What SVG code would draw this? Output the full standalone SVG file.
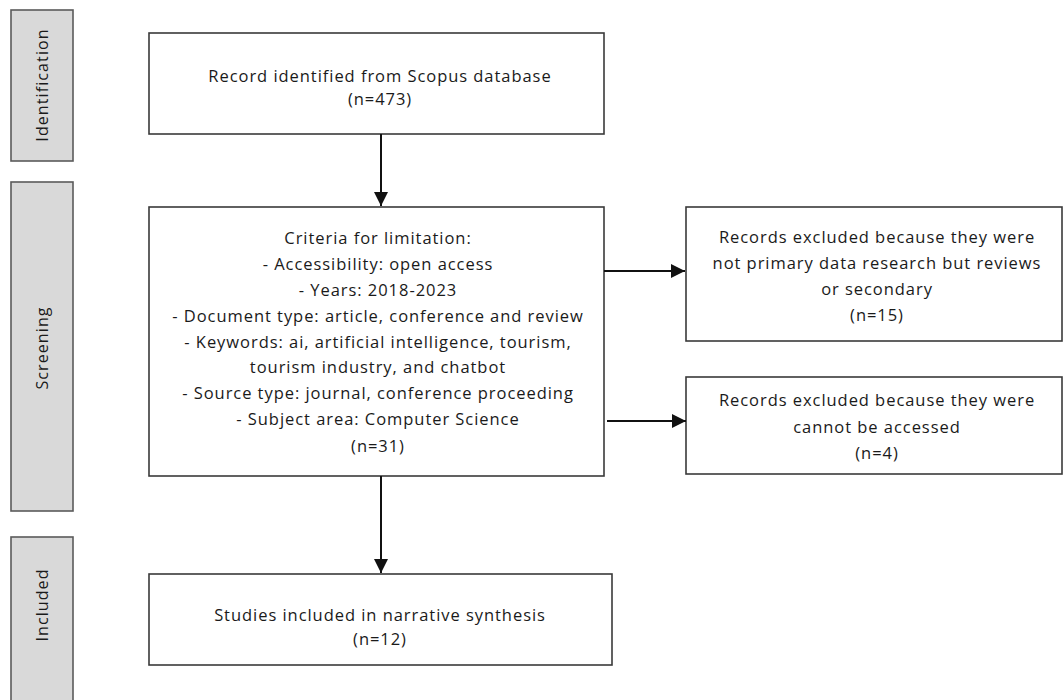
<svg xmlns="http://www.w3.org/2000/svg" width="1064" height="700" viewBox="0 0 1064 700">
<style>
.box{fill:#ffffff;stroke:#3a3a3a;stroke-width:1.6}
.lane{fill:#d9d9d9;stroke:#5a5a5a;stroke-width:1.6}
.t{font-family:"Open Sans","DejaVu Sans",sans-serif;font-size:16.5px;letter-spacing:0.95px;fill:#1a1a1a;text-anchor:middle}
.lt{font-family:"Open Sans","DejaVu Sans",sans-serif;font-size:16px;letter-spacing:1.1px;fill:#1a1a1a;text-anchor:middle}
.c{stroke:#111;stroke-width:2;fill:none;marker-end:url(#ah)}
</style>
<defs>
<marker id="ah" markerUnits="userSpaceOnUse" markerWidth="14" markerHeight="14" refX="14" refY="7" orient="auto">
<path d="M0,0 L14,7 L0,14 Z" fill="#111"/>
</marker>
</defs>
<rect width="1064" height="700" fill="#ffffff"/>
<g id="lane-identification">
<rect class="lane" x="11" y="10" width="62" height="151"/>
<text class="lt" transform="translate(48,85) rotate(-90)">Identification</text>
</g>
<g id="lane-screening">
<rect class="lane" x="11" y="182" width="62" height="329"/>
<text class="lt" transform="translate(48,348) rotate(-90)">Screening</text>
</g>
<g id="lane-included">
<rect class="lane" x="11" y="537" width="62" height="180"/>
<text class="lt" transform="translate(48,605) rotate(-90)">Included</text>
</g>
<g id="identified">
<rect class="box" x="149" y="33" width="455" height="101"/>
<text class="t" x="380" y="82">Record identified from Scopus database</text>
<text class="t" x="380" y="105">(n=473)</text>
</g>
<g id="criteria">
<rect class="box" x="149" y="207" width="455" height="269"/>
<text class="t" x="378" y="244">Criteria for limitation:</text>
<text class="t" x="378" y="270">- Accessibility: open access</text>
<text class="t" x="378" y="296">- Years: 2018-2023</text>
<text class="t" x="378" y="322">- Document type: article, conference and review</text>
<text class="t" x="378" y="348">- Keywords: ai, artificial intelligence, tourism,</text>
<text class="t" x="378" y="373">tourism industry, and chatbot</text>
<text class="t" x="378" y="399">- Source type: journal, conference proceeding</text>
<text class="t" x="378" y="425">- Subject area: Computer Science</text>
<text class="t" x="378" y="452">(n=31)</text>
</g>
<g id="excluded-reviews">
<rect class="box" x="686" y="207" width="376" height="134"/>
<text class="t" x="877" y="243">Records excluded because they were</text>
<text class="t" x="877" y="269">not primary data research but reviews</text>
<text class="t" x="877" y="295">or secondary</text>
<text class="t" x="877" y="321">(n=15)</text>
</g>
<g id="excluded-access">
<rect class="box" x="686" y="377" width="376" height="97"/>
<text class="t" x="877" y="406">Records excluded because they were</text>
<text class="t" x="877" y="433">cannot be accessed</text>
<text class="t" x="877" y="459">(n=4)</text>
</g>
<g id="included">
<rect class="box" x="149" y="574" width="463" height="91"/>
<text class="t" x="380" y="621">Studies included in narrative synthesis</text>
<text class="t" x="380" y="645">(n=12)</text>
</g>
<g id="connectors">
<line class="c" x1="381" y1="134" x2="381" y2="206"/>
<line class="c" x1="604" y1="271" x2="685" y2="271"/>
<line class="c" x1="607" y1="421" x2="686" y2="421"/>
<line class="c" x1="381" y1="476" x2="381" y2="573"/>
</g>
</svg>
